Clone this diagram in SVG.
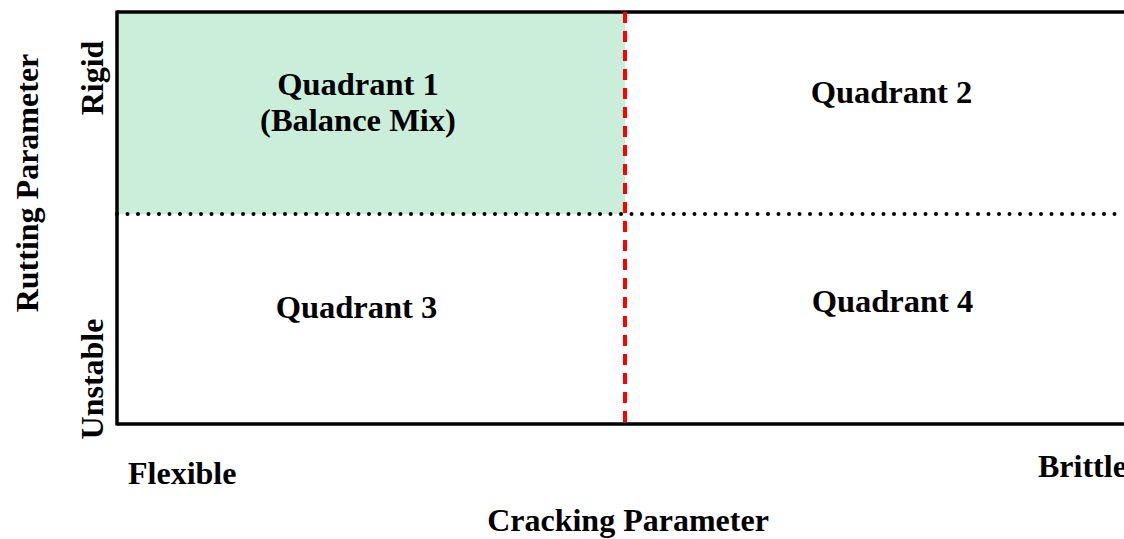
<svg xmlns="http://www.w3.org/2000/svg" width="1124" height="539" viewBox="0 0 1124 539">
<style>
text{font-family:"Liberation Serif","Times New Roman",serif;font-weight:bold;fill:#000;}
.q{font-size:32.5px;text-anchor:middle;}
.ax{font-size:32px;}
</style>
<rect width="1124" height="539" fill="#fff"/>
<g id="quadrant1">
<rect x="117" y="12" width="508" height="202" fill="#cbeedb"/>
<text class="q" x="358" y="95">Quadrant 1</text>
<text class="q" x="358" y="131">(Balance Mix)</text>
</g>
<g id="quadrant2"><text class="q" x="891.5" y="103">Quadrant 2</text></g>
<g id="quadrant3"><text class="q" x="356.5" y="318">Quadrant 3</text></g>
<g id="quadrant4"><text class="q" x="892.5" y="312">Quadrant 4</text></g>
<g id="connectors">
<line x1="117" y1="214" x2="1124" y2="214" stroke="#000" stroke-width="4" stroke-dasharray="0 10.5" stroke-linecap="round"/>
<line x1="117" y1="12" x2="1124" y2="12" stroke="#000" stroke-width="3.5"/>
<line x1="117" y1="424" x2="1124" y2="424" stroke="#000" stroke-width="3.5"/>
<line x1="117" y1="10.5" x2="117" y2="425.5" stroke="#000" stroke-width="3.5"/>
<line x1="625" y1="12" x2="625" y2="426" stroke="#f00" stroke-width="4" stroke-dasharray="11 8"/>
</g>
<g id="labels">
<text class="ax" x="128" y="484">Flexible</text>
<text class="ax" x="1038" y="477">Brittle</text>
<text class="ax" x="628" y="531" text-anchor="middle">Cracking Parameter</text>
<text class="ax" transform="translate(38,183) rotate(-90)" text-anchor="middle">Rutting Parameter</text>
<text class="ax" transform="translate(103,78) rotate(-90)" text-anchor="middle">Rigid</text>
<text class="ax" transform="translate(103,379) rotate(-90)" text-anchor="middle">Unstable</text>
</g>
</svg>
